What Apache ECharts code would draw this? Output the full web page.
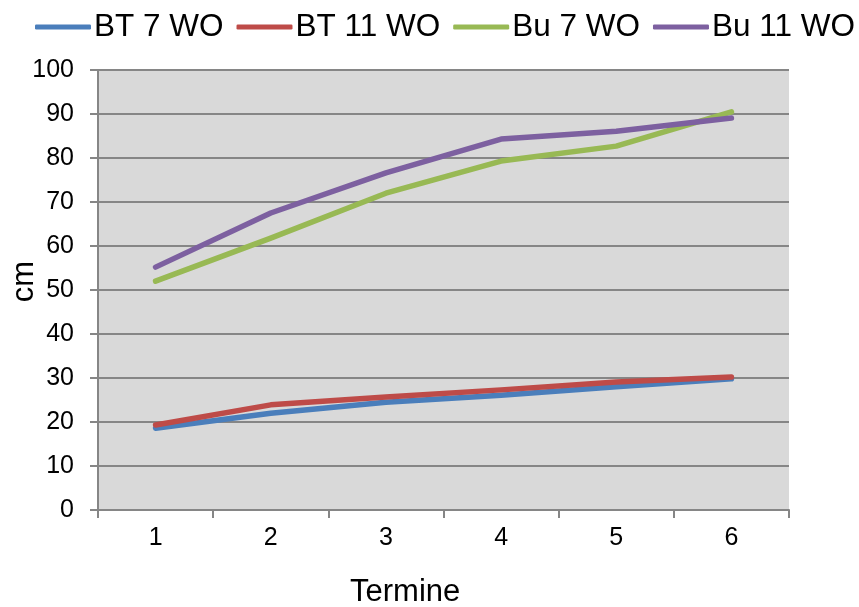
<!DOCTYPE html>
<html>
<head>
<meta charset="utf-8">
<script src="https://cdn.jsdelivr.net/npm/echarts@6/dist/echarts.min.js"></script>
<style>html,body{margin:0;padding:0;background:#fff}#c{width:859px;height:607px}</style>
</head>
<body>
<div id="c"></div>
<script>
const categories = ['1', '2', '3', '4', '5', '6'];
const bt7 = [18.6, 22.0, 24.5, 26.1, 28.0, 29.8];
const bt11 = [19.3, 23.9, 25.7, 27.3, 29.1, 30.2];
const bu7 = [52.0, 61.8, 72.0, 79.3, 82.7, 90.5];
const bu11 = [55.2, 67.5, 76.6, 84.3, 86.1, 89.1];
const seriesNames = ['BT 7 WO', 'BT 11 WO', 'Bu 7 WO', 'Bu 11 WO'];
const colors = ['#4a7ebb', '#be4b48', '#98b954', '#7d60a0'];
const yTicks = { min: 0, max: 100, interval: 10 };

const font = '"Liberation Sans", Arial, sans-serif';
const chart = echarts.init(document.getElementById('c'), null, { renderer: 'canvas' });
const dataSets = [bt7, bt11, bu7, bu11];
chart.setOption({
  animation: false,
  backgroundColor: '#ffffff',
  color: colors,
  legend: {
    left: 35, top: 11, padding: 0, width: 850,
    itemWidth: 56, itemHeight: 5, itemGap: 13,
    icon: 'roundRect',
    textStyle: { fontFamily: font, fontSize: 31.5, color: '#000', padding: [0, 0, 0, -2] },
    data: seriesNames
  },
  grid: {
    left: 98, right: 70, top: 70, bottom: 97,
    show: true, backgroundColor: '#d9d9d9', borderWidth: 0
  },
  xAxis: {
    type: 'category',
    data: categories,
    boundaryGap: true,
    axisLine: { lineStyle: { color: '#868686', width: 2 } },
    axisTick: { show: true, length: 8, lineStyle: { color: '#868686', width: 2 } },
    axisLabel: { fontFamily: font, fontSize: 25, color: '#000', margin: 16 }
  },
  yAxis: {
    type: 'value',
    min: yTicks.min, max: yTicks.max, interval: yTicks.interval,
    axisLine: { show: true, lineStyle: { color: '#868686', width: 2 } },
    axisTick: { show: true, length: 8, lineStyle: { color: '#868686', width: 2 } },
    splitLine: { lineStyle: { color: '#868686', width: 2 } },
    axisLabel: { fontFamily: font, fontSize: 25, color: '#000', margin: 24 }
  },
  graphic: [
    { type: 'text', left: 9, top: 261, rotation: Math.PI / 2,
      style: { text: 'cm', fontFamily: font, fontSize: 31, fill: '#000' } },
    { type: 'text', left: 350, top: 577,
      style: { text: 'Termine', fontFamily: font, fontSize: 31, fill: '#000' } }
  ],
  series: seriesNames.map((n, i) => ({
    name: n, type: 'line', data: dataSets[i],
    symbol: 'none', lineStyle: { width: 5.5, color: colors[i], cap: 'round', join: 'round' },
    itemStyle: { color: colors[i] }
  }))
});
</script>
</body>
</html>
